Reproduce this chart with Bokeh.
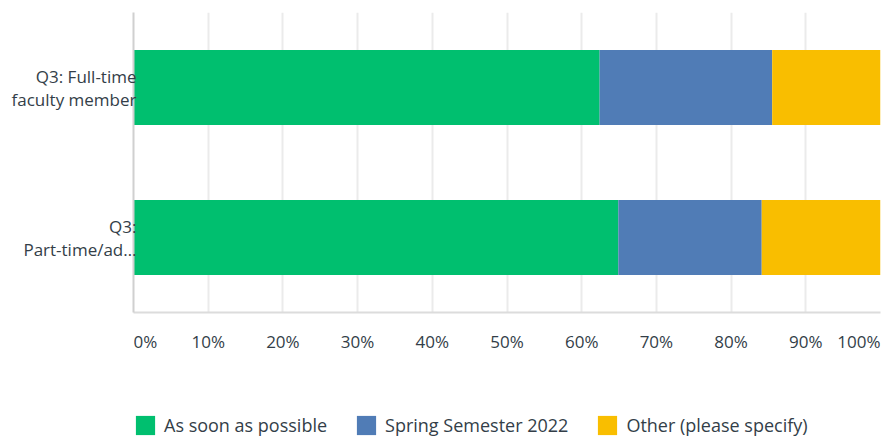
from bokeh.plotting import figure
from bokeh.layouts import column
from bokeh.models import (ColumnDataSource, FactorRange, Range1d, Legend, LegendItem, FixedTicker)
from bokeh.embed import file_html
from bokeh.resources import INLINE

categories = ["Q3: Full-time\nfaculty member", "Q3:\nPart-time/ad…"]
series = ["As soon as possible", "Spring Semester 2022", "Other (please specify)"]
asap = [62.4, 64.9]
spring = [23.1, 19.2]
other = [14.5, 15.9]
colors = ["#00bf6f", "#507cb6", "#f9be00"]
x_ticks = [0, 10, 20, 30, 40, 50, 60, 70, 80, 90, 100]
x_tick_labels = ["0%", "10%", "20%", "30%", "40%", "50%", "60%", "70%", "80%", "90%", "100%"]

FONT = "Open Sans"
TXT = "#333e48"

# ---- main chart ----
p = figure(width=881, height=322, output_backend="svg", toolbar_location=None,
           y_range=FactorRange(*reversed(categories), range_padding=0),
           x_range=Range1d(0, 100),
           min_border_left=133, min_border_right=1, min_border_top=12, min_border_bottom=10)
p.outline_line_color = None

src = ColumnDataSource(dict(cat=categories, asap=asap, spring=spring, other=other))
p.hbar_stack(["asap", "spring", "other"], y="cat", height=0.5, color=colors,
             line_color=None, source=src)

p.yaxis.axis_line_color = "#d0d0d0"
p.yaxis.axis_line_width = 2
p.yaxis.major_tick_line_color = None
p.yaxis.minor_tick_line_color = None
p.yaxis.major_label_text_font = FONT
p.yaxis.major_label_text_font_size = "17px"
p.yaxis.major_label_text_line_height = 1.0
p.yaxis.major_label_text_color = TXT
p.yaxis.major_label_standoff = -9
p.ygrid.grid_line_color = None

p.xaxis.ticker = FixedTicker(ticks=[])
p.xaxis.axis_line_color = "#dcdcdc"
p.xaxis.axis_line_width = 2
p.xaxis.major_tick_line_color = None
p.xaxis.minor_tick_line_color = None
p.xaxis.major_tick_out = 0
p.xaxis.minor_tick_out = 0
p.xaxis.major_label_standoff = 0
p.xgrid.ticker = FixedTicker(ticks=x_ticks)
p.xgrid.grid_line_color = "#ebebeb"
p.xgrid.grid_line_width = 2

# ---- tick labels and legend strip (shares the x scale) ----
p2 = figure(width=881, height=115, output_backend="svg", toolbar_location=None,
            x_range=p.x_range, y_range=Range1d(0, 115),
            min_border_left=133, min_border_right=1, min_border_top=0, min_border_bottom=0)
p2.outline_line_color = None
p2.axis.visible = False
p2.grid.visible = False

lab_y = 96
n = len(x_ticks)
common = dict(text_baseline="middle", text_font_size="17px", text_color=TXT)
p2.text(x=x_ticks[:1], y=[lab_y], text=x_tick_labels[:1], text_align="left",
        text_font={"value": FONT}, **common)
p2.text(x=x_ticks[1:n - 1], y=[lab_y] * (n - 2), text=x_tick_labels[1:n - 1], text_align="center",
        text_font={"value": FONT}, **common)
p2.text(x=x_ticks[n - 1:], y=[lab_y], text=x_tick_labels[n - 1:], text_align="right",
        text_font={"value": FONT}, **common)

# legend proxies: same series, placed outside the visible strip so only the swatches show
proxy_src = ColumnDataSource(dict(yy=[-100] * len(asap), asap=asap, spring=spring, other=other))
proxies = p2.hbar_stack(["asap", "spring", "other"], y="yy", height=1, color=colors,
                        line_color=None, source=proxy_src)
legend = Legend(items=[LegendItem(label=s, renderers=[r]) for s, r in zip(series, proxies)],
                orientation="horizontal", location=(0, 0),
                glyph_width=24, glyph_height=24, label_standoff=7, spacing=27,
                padding=0, margin=0, border_line_color=None, background_fill_alpha=0,
                label_text_font=FONT, label_text_font_size="18px", label_text_color=TXT)
p2.add_layout(legend, "center")

layout = column(p, p2, spacing=0)
open("out.html", "w").write(file_html(layout, INLINE))
